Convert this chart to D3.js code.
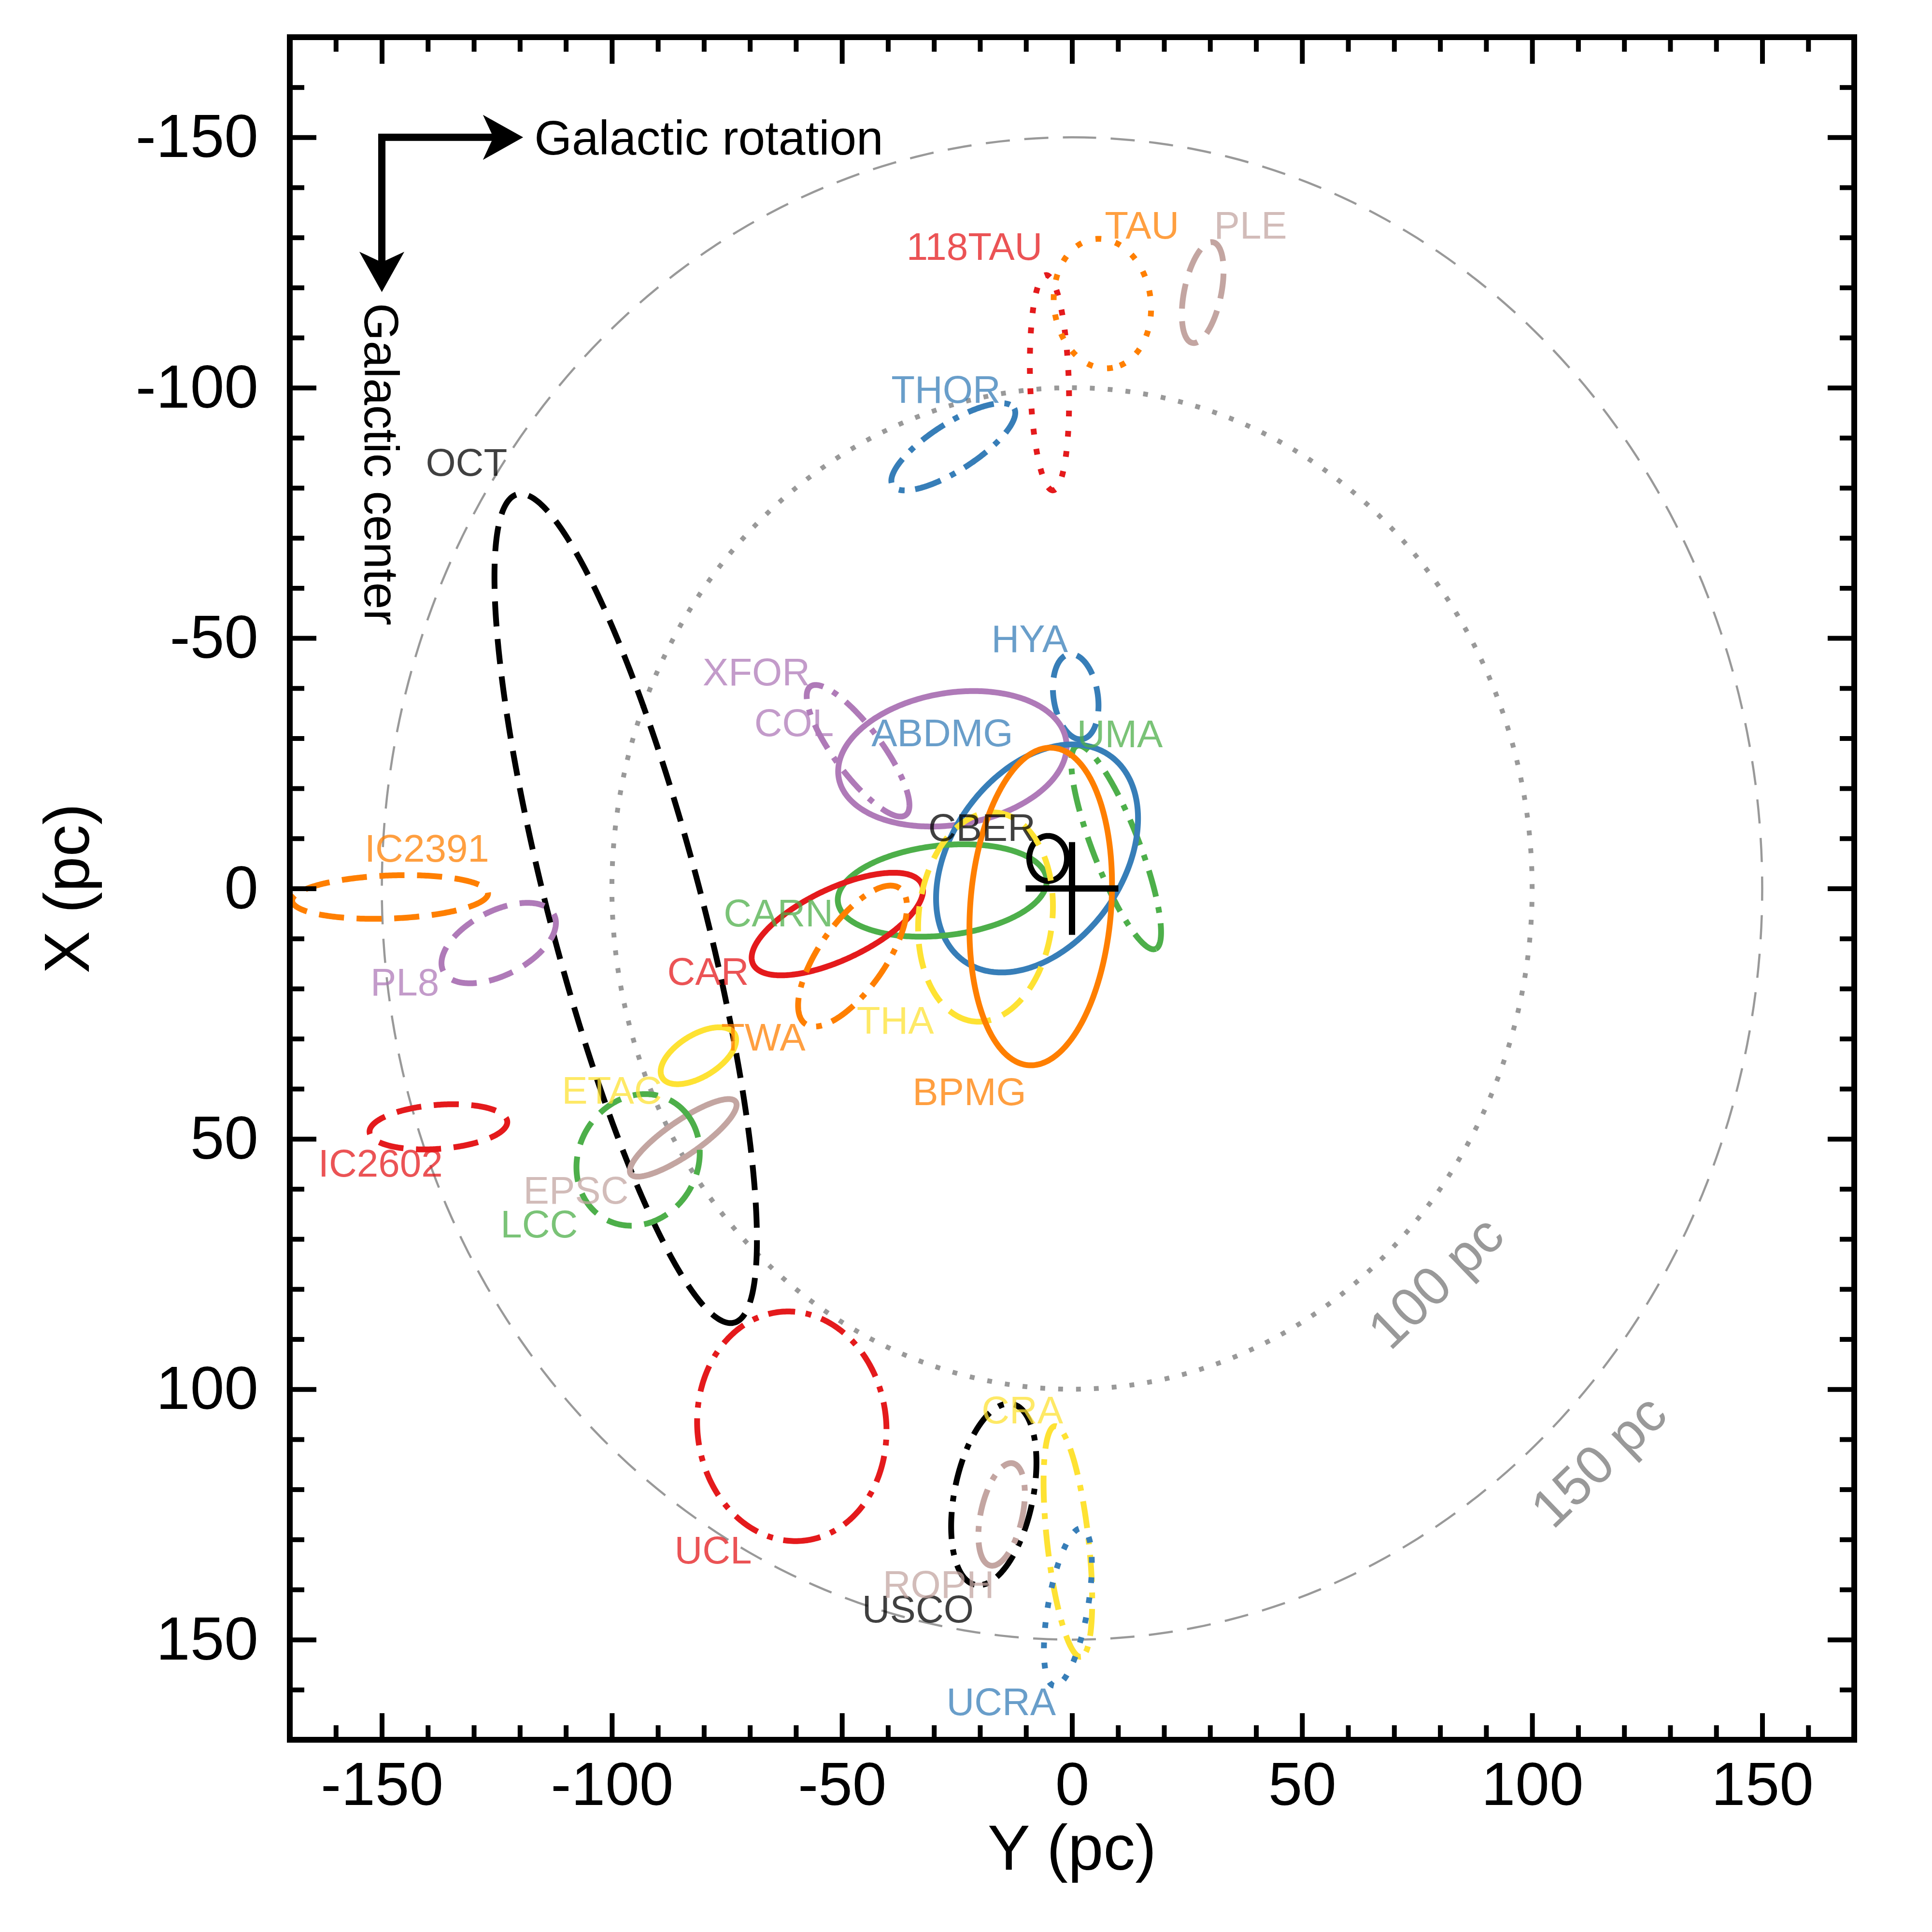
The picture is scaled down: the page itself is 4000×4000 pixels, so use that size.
<!DOCTYPE html>
<html>
<head>
<meta charset="utf-8">
<script src="https://cdn.jsdelivr.net/npm/d3@7"></script>
<style>
  body { margin: 0; background: #fff; }
  svg { display: block; }
</style>
</head>
<body>
<div id="chart"></div>
<script>
// moving groups, ellipses in the Y-X plane (pc)
const groups = ["OCT", "IC2391", "PL8", "IC2602", "ETAC", "EPSC", "LCC", "UCL", "USCO", "ROPH",
  "CRA", "UCRA", "118TAU", "TAU", "PLE", "THOR", "HYA", "UMA", "XFOR", "COL",
  "ABDMG", "CARN", "CAR", "CBER", "TWA", "THA", "BPMG"];
const centerY = [-97, -148.2, -124.6, -137.7, -81.2, -84.5, -94.3, -60.9, -17, -15.3,
  -0.9, -0.9, -4.9, 6.6, 28.4, -25.8, 0.8, 9.6, -46.5, -26,
  -7.6, -28.2, -51, -5.2, -47.7, -18.8, -6.8];
const centerX = [4, 1.7, 10.9, 47.6, 33.4, 49.8, 54.2, 107.4, 121, 125,
  130.4, 143.5, -101, -116.8, -119, -88.2, -38.3, -8.2, -27.5, -25.9,
  -6, 0.4, 7.1, -6, 13.5, 5.7, 3.6];
const semiMajor = [86, 21.3, 13.3, 15, 9, 13.5, 14, 23, 18.5, 10.5,
  23.2, 16, 21.5, 13, 10.3, 15.3, 8.6, 22, 16.5, 25,
  26, 22.8, 20, 4.5, 17, 21, 31.8];
const semiMinor = [16.5, 4.3, 6.5, 4.4, 4.3, 3.5, 12.5, 20.5, 8.5, 4.5,
  4.5, 4.3, 4.2, 10.5, 4, 4.8, 4.8, 5, 5, 13.2,
  18, 9, 7.2, 4.1, 7, 14.5, 15.3];
const tilt = [74, -2, -24, -4, -28, -32, -40, 80, 103, 104,
  83, 101, 88, 80, 103, -30, 80, 67, 50.6, -8,
  132, -5.6, -23, 90, 128, 98, 95];
const labelY = [-131.6, -140.2, -145, -150.3, -100, -107.8, -115.8, -78, -33.5, -29,
  -10.8, -15.4, -21.2, 15.2, 38.8, -27.4, -9.2, 10.4, -68.6, -60.4,
  -28.2, -63.8, -79.1, -19.6, -67.1, -38.4, -22.3];
const labelX = [-85.1, -8, 18.7, 54.9, 40.3, 60.3, 67, 132.1, 143.9, 139,
  104.2, 162.4, -128.2, -132.4, -132.4, -99.6, -49.9, -30.9, -43.2, -33.1,
  -31.1, 4.9, 16.6, -12.2, 29.7, 26.3, 40.6];

// reference rings
const ringRadius = [100, 150];
const ringText = ["100 pc", "150 pc"];
const ringLabelY = [79, 114.4];
const ringLabelX = [78.6, 114.3];

const majorTicks = [-150, -100, -50, 0, 50, 100, 150];
const minorTicks = d3.range(-160, 161, 10).filter(d => d % 50 !== 0);

const arrowStart = [-150, -150];
const arrowEnds = [[-119.6, -150], [-150, -119.4]];

// styles
const palette = {
  red: "#e41a1c", blue: "#377eb8", green: "#4daf4a", purple: "#af7ab8",
  orange: "#ff7f00", yellow: "#fee233", brown: "#c3a5a1", black: "#000000"
};
const groupStyle = {
  OCT: ["black", "dashed"], IC2391: ["orange", "dashed"], PL8: ["purple", "dashed"],
  IC2602: ["red", "dashed"], ETAC: ["yellow", "solid"], EPSC: ["brown", "solid"],
  LCC: ["green", "dashed"], UCL: ["red", "dashdot"], USCO: ["black", "dashdot"],
  ROPH: ["brown", "dashdot"], CRA: ["yellow", "dashdot"], UCRA: ["blue", "dotted"],
  "118TAU": ["red", "dotted"], TAU: ["orange", "dotted"], PLE: ["brown", "dashed"],
  THOR: ["blue", "dashdot"], HYA: ["blue", "dashed"], UMA: ["green", "dashdot"],
  XFOR: ["purple", "dashdot"], COL: ["purple", "solid"], ABDMG: ["blue", "solid"],
  CBER: ["black", "solid"], CARN: ["green", "solid"], CAR: ["red", "solid"],
  TWA: ["orange", "dashdot"], THA: ["yellow", "dashed"], BPMG: ["orange", "solid"]
};
const dashes = { solid: null, dashed: "52 26", dashdot: "56 22 12 22", dotted: "12 30" };

const width = 4000, height = 4000;
const font = "'Liberation Sans', Arial, Helvetica, sans-serif";

const x = d3.scaleLinear().domain([-170, 170]).range([600, 3839]);
const y = d3.scaleLinear().domain([-170, 170]).range([77, 3602]);

function ellipsePoints(cy, cx, a, b, deg) {
  const t = deg * Math.PI / 180;
  return d3.range(0, 360, 1).map(k => {
    const th = k * Math.PI / 180;
    return [cy + a * Math.cos(th) * Math.cos(t) - b * Math.sin(th) * Math.sin(t),
            cx + a * Math.cos(th) * Math.sin(t) + b * Math.sin(th) * Math.cos(t)];
  });
}

const line = d3.line()
  .x(d => x(d[0]))
  .y(d => y(d[1]))
  .curve(d3.curveLinearClosed);

const svg = d3.select("#chart")
  .append("svg")
  .attr("width", width)
  .attr("height", height)
  .attr("viewBox", [0, 0, width, height])
  .style("font-family", font);

svg.append("rect").attr("width", width).attr("height", height).attr("fill", "#fff");

svg.append("clipPath").attr("id", "plot")
  .append("rect")
  .attr("x", x(-170)).attr("y", y(-170))
  .attr("width", x(170) - x(-170)).attr("height", y(170) - y(-170));

const plot = svg.append("g").attr("clip-path", "url(#plot)");

// rings
plot.selectAll(".ring")
  .data(ringRadius)
  .join("path")
  .attr("class", "ring")
  .attr("d", r => line(ellipsePoints(0, 0, r, r, -90)))
  .attr("fill", "none")
  .attr("stroke", "#999")
  .attr("stroke-width", (r, i) => i === 0 ? 10 : 4.5)
  .attr("stroke-dasharray", (r, i) => i === 0 ? "10 27" : "50 30");

plot.selectAll(".ringlabel")
  .data(ringText)
  .join("text")
  .attr("class", "ringlabel")
  .attr("transform", (d, i) => `translate(${x(ringLabelY[i])},${y(ringLabelX[i])}) rotate(-44)`)
  .attr("text-anchor", "middle")
  .attr("dominant-baseline", "central")
  .attr("font-size", 112)
  .attr("fill", "#999")
  .text(d => d);

// group ellipses
plot.selectAll(".group")
  .data(groups)
  .join("path")
  .attr("class", "group")
  .attr("d", (g, i) => line(ellipsePoints(centerY[i], centerX[i], semiMajor[i], semiMinor[i], tilt[i])))
  .attr("fill", "none")
  .attr("stroke", g => palette[groupStyle[g][0]])
  .attr("stroke-width", 12)
  .attr("stroke-dasharray", g => dashes[groupStyle[g][1]]);

// Sun
const cross = 96;
plot.append("path")
  .attr("d", `M${x(0) - cross},${y(0)}H${x(0) + cross}M${x(0)},${y(0) - cross}V${y(0) + cross}`)
  .attr("stroke", "#000")
  .attr("stroke-width", 13)
  .attr("fill", "none");

// labels
plot.selectAll(".glabel")
  .data(groups)
  .join("text")
  .attr("class", "glabel")
  .attr("x", (g, i) => x(labelY[i]))
  .attr("y", (g, i) => y(labelX[i]))
  .attr("text-anchor", "middle")
  .attr("dominant-baseline", "central")
  .attr("font-size", 80)
  .attr("fill", g => palette[groupStyle[g][0]])
  .attr("fill-opacity", 0.75)
  .text(g => g);

// direction arrows (filled stealth heads)
const ox = x(arrowStart[0]), oy = y(arrowStart[1]);
const hx = x(arrowEnds[0][0]), vy = y(arrowEnds[1][1]);
const head = 77, wing = 43, notch = 57;
svg.append("path")
  .attr("d", `M${hx - notch + 4},${oy}H${ox}V${vy - notch + 4}`)
  .attr("fill", "none")
  .attr("stroke", "#000")
  .attr("stroke-width", 15)
  .attr("stroke-linecap", "butt")
  .attr("stroke-linejoin", "miter");
svg.append("path")
  .attr("d", `M${hx},${oy}L${hx - head},${oy - wing}L${hx - notch},${oy}L${hx - head},${oy + wing}Z`
    + `M${ox},${vy}L${ox - wing},${vy - head}L${ox},${vy - notch}L${ox + wing},${vy - head}Z`)
  .attr("fill", "#000")
  .attr("stroke", "#000")
  .attr("stroke-width", 3);

svg.append("text")
  .attr("x", hx + 26)
  .attr("y", oy + 36)
  .attr("font-size", 100)
  .attr("fill", "#000")
  .text("Galactic rotation");

svg.append("text")
  .attr("transform", `translate(${ox - 36},${vy + 26}) rotate(90)`)
  .attr("font-size", 100)
  .attr("fill", "#000")
  .text("Galactic center");

// axes with inward ticks on all four sides
const fmt = d => String(d);
function styleAxis(g) {
  g.select(".domain").remove();
  g.selectAll(".tick line").attr("stroke", "#000").attr("stroke-width", 10);
  g.selectAll(".tick text").attr("font-size", 127).attr("font-family", font).attr("fill", "#000");
}
const axes = [
  [() => d3.axisBottom(x), `translate(0,${y(170)})`, true, 45],
  [() => d3.axisTop(x), `translate(0,${y(-170)})`, false, 0],
  [() => d3.axisLeft(y), `translate(${x(-170)},0)`, true, 65],
  [() => d3.axisRight(y), `translate(${x(170)},0)`, false, 0]
];
axes.forEach(([make, tr, labels, pad]) => {
  svg.append("g").attr("transform", tr)
    .call(make().tickValues(majorTicks).tickSize(-55).tickPadding(pad).tickFormat(labels ? fmt : () => ""))
    .call(styleAxis);
  svg.append("g").attr("transform", tr)
    .call(make().tickValues(minorTicks).tickSize(-30).tickFormat(() => ""))
    .call(styleAxis);
});

svg.append("rect")
  .attr("x", x(-170)).attr("y", y(-170))
  .attr("width", x(170) - x(-170)).attr("height", y(170) - y(-170))
  .attr("fill", "none")
  .attr("stroke", "#000")
  .attr("stroke-width", 12);

svg.append("text")
  .attr("x", (x(-170) + x(170)) / 2)
  .attr("y", 3871)
  .attr("text-anchor", "middle")
  .attr("font-size", 132)
  .text("Y (pc)");

svg.append("text")
  .attr("transform", `translate(184,${y(0)}) rotate(-90)`)
  .attr("text-anchor", "middle")
  .attr("font-size", 132)
  .text("X (pc)");
</script>
</body>
</html>
